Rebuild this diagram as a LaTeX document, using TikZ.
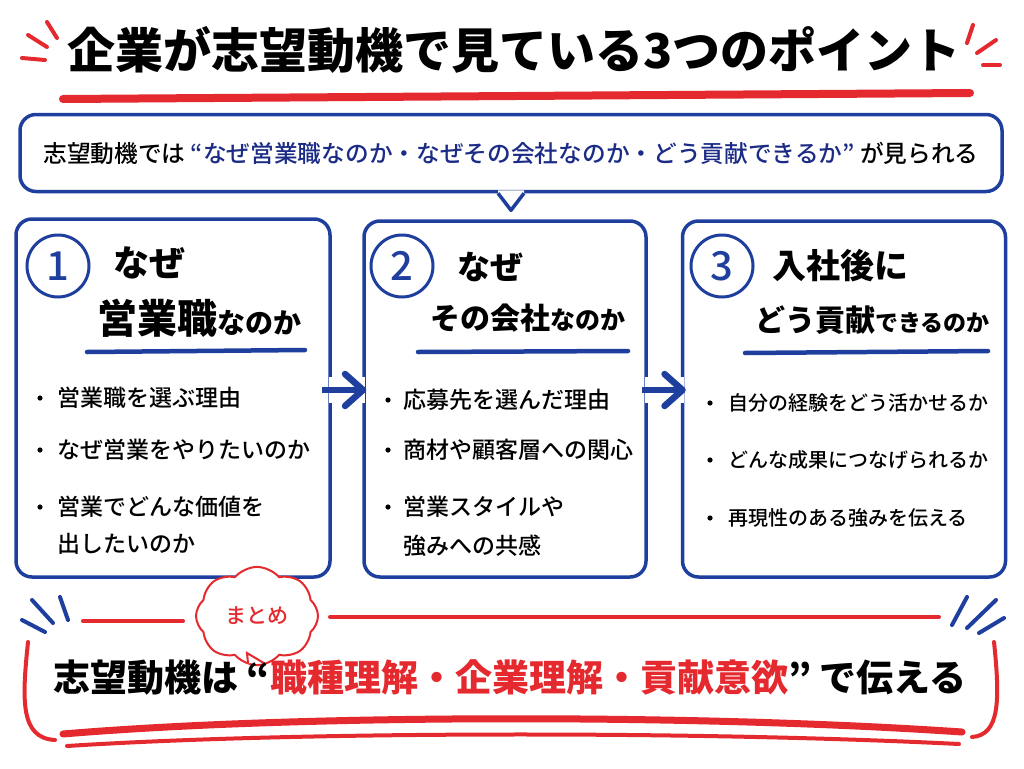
\documentclass[tikz,border=0pt]{standalone}
\usepackage{fontspec}
\setmainfont{Noto Sans CJK JP}
\newfontfamily\medfont{Noto Sans CJK JP Medium}
\usetikzlibrary{positioning,arrows.meta,shapes.symbols}
\definecolor{inkblue}{HTML}{1F3F9E}
\definecolor{navytext}{HTML}{1C2C86}
\definecolor{mred}{HTML}{E52A2F}
\newcommand{\fs}[1]{\fontsize{#1}{#1}\selectfont}

\begin{document}
\begin{tikzpicture}[x=1pt, y=-1pt, every node/.style={inner sep=0pt},
    card/.style={draw=inkblue, line width=3.5pt, rounded corners=16pt, fill=white},
    numc/.style={circle, draw=inkblue, line width=3pt, minimum size=62pt, text=inkblue, font=\medfont\fs{40}},
    head/.style={anchor=base west},
    item/.style={anchor=west, font=\medfont\fs{23}},
    rule/.style={draw=inkblue, line width=4.5pt, line cap=round},
    flow/.style={draw=inkblue, line width=6.5pt, -{Straight Barb[length=18pt,width=32pt,round]}},
    gap/.style={draw=white, line width=26pt, shorten <=-3pt, shorten >=-3pt},
    redstroke/.style={draw=mred, line width=4pt, line cap=round},
    bluestroke/.style={draw=inkblue, line width=4pt, line cap=round}]
  \fill[white] (0,0) rectangle (1024,768);
  \useasboundingbox (0,0) rectangle (1024,768);

  \node[font=\bfseries\fs{48}] (title) at (514,50) {企業が志望動機で見ている3つのポイント};
  \draw[mred, line width=8pt, line cap=round] (63,99) -- (970,93);
  \draw[redstroke] (47,22) -- (57,38);
  \draw[redstroke] (28,35) -- (47,47);
  \draw[redstroke] (22,58) -- (45,60);
  \draw[redstroke] (973,25) -- (967,43);
  \draw[redstroke] (996,40) -- (977,53);
  \draw[redstroke] (983,65) -- (1000,65);

  \node[card, minimum width=982pt, minimum height=77pt, font=\medfont\fs{23.7}] (sp) at (511,153)
    {志望動機では \textcolor{navytext}{“なぜ営業職なのか・なぜその会社なのか・どう貢献できるか”} が見られる};
  \fill[white] ([xshift=-13pt,yshift=3pt]sp.south) -- ([xshift=-13pt]sp.south) -- ([yshift=-17pt]sp.south)
    -- ([xshift=13pt]sp.south) -- ([xshift=13pt,yshift=3pt]sp.south) -- cycle;
  \draw[inkblue, line width=3.5pt, line join=round] ([xshift=-13pt]sp.south) -- ([yshift=-17pt]sp.south) -- ([xshift=13pt]sp.south);

  \node[card, minimum width=314pt, minimum height=358pt] (b1) at (173,398) {};
  \node[card, minimum width=282pt, minimum height=356pt] (b2) at (505,399) {};
  \node[card, minimum width=323pt, minimum height=356pt] (b3) at (844,399) {};

  \node[numc] (n1) at (58,266) {1};
  \node[numc] (n2) at (402,266) {2};
  \node[numc] (n3) at (722,266) {3};

  \node[head, font=\bfseries\fs{36}] (h1a) at (113,276) {なぜ};
  \node[head, font=\bfseries] (h1b) at (97,333) {{\fs{40}営業職}{\fs{28}なのか}};
  \node[head, font=\bfseries\fs{33}] (h2a) at (457,279) {なぜ};
  \node[head, font=\bfseries] (h2b) at (430,329) {{\fs{30}その会社}{\fs{25}なのか}};
  \node[head, font=\bfseries\fs{34}] (h3a) at (772,278) {入社後に};
  \node[head, font=\bfseries] (h3b) at (755,331) {{\fs{30}どう貢献}{\fs{23}できるのか}};
  \draw[rule] (87,352) -- (305,350);
  \draw[rule] (418,352) -- (628,351);
  \draw[rule] (745,353) -- (988,351);

  \fill (40,398) circle (2.6pt);
  \fill (40,450) circle (2.6pt);
  \fill (40,507) circle (2.6pt);
  \node[item] (i11) at (57,398) {営業職を選ぶ理由};
  \node[item] (i12) at (57,450) {なぜ営業をやりたいのか};
  \node[item] (i13) at (57,507) {営業でどんな価値を};
  \node[item] (i13b) at (57,544) {出したいのか};
  \fill (388,400) circle (2.6pt);
  \fill (388,450) circle (2.6pt);
  \fill (388,507) circle (2.6pt);
  \node[item] (i21) at (403,400) {応募先を選んだ理由};
  \node[item] (i22) at (403,450) {商材や顧客層への関心};
  \node[item] (i23) at (403,507) {営業スタイルや};
  \node[item] (i23b) at (403,546) {強みへの共感};
  \fill (710,403) circle (2.6pt);
  \fill (710,460) circle (2.6pt);
  \fill (710,518) circle (2.6pt);
  \node[item, font=\medfont\fs{20}] (i31) at (728,403) {自分の経験をどう活かせるか};
  \node[item, font=\medfont\fs{20}] (i32) at (728,460) {どんな成果につなげられるか};
  \node[item, font=\medfont\fs{20}] (i33) at (728,518) {再現性のある強みを伝える};

  \draw[gap] (b1.east |- 0,390) -- (b2.west |- 0,390);
  \draw[flow, shorten <=-10pt, shorten >=-4pt] (b1.east |- 0,390) -- (b2.west |- 0,390);
  \draw[gap] (b2.east |- 0,390) -- (b3.west |- 0,390);
  \draw[flow, shorten <=-6pt, shorten >=-5pt] (b2.east |- 0,390) -- (b3.west |- 0,390);

  \draw[bluestroke] (22,620) -- (45,632);
  \draw[bluestroke] (32,600) -- (53,623);
  \draw[bluestroke] (60,597) -- (68,620);
  \draw[bluestroke] (952,625) -- (967,597);
  \draw[bluestroke] (967,628) -- (996,600);
  \draw[bluestroke] (979,633) -- (1004,618);

  \draw[redstroke] (83,621) -- (183,621);
  \draw[redstroke] (330,617) -- (939,617);
  \node[cloud, cloud puffs=8, cloud puff arc=100, draw=mred, line width=2pt, fill=white, minimum width=122pt, minimum height=54pt,
    text=mred, font=\medfont\fs{21}] (sum) at (257,616) {まとめ};
  \draw[mred, line width=2pt, fill=white] ([xshift=-9pt,yshift=3pt]sum.south) -- (247,653) -- ([xshift=7pt,yshift=3pt]sum.south);
  \draw[redstroke] (28,642) .. controls (22,700) and (20,738) .. (55,740);
  \draw[redstroke] (994,642) .. controls (1000,700) and (1000,735) .. (972,737);
  \node[font=\bfseries\fs{37}] (msg) at (510,677)
    {志望動機は “\textcolor{mred}{職種理解・企業理解・貢献意欲}” で伝える};
  \draw[mred, line width=7pt, line cap=round] (63,734) .. controls (300,714) and (700,714) .. (962,732);
  \draw[mred, line width=4pt, line cap=round] (67,746) .. controls (300,731) and (700,731) .. (959,744);
\end{tikzpicture}
\end{document}
